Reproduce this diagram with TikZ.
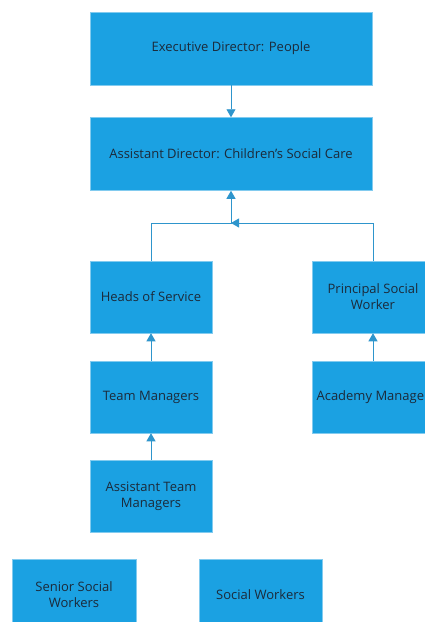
\documentclass[tikz,border=0pt]{standalone}
\usepackage{fontspec}
\setmainfont{Open Sans}
\usetikzlibrary{arrows.meta}
\definecolor{boxblue}{HTML}{1BA1E2}
\definecolor{linkblue}{HTML}{2E95CC}
\definecolor{textnavy}{HTML}{1C2A3A}
\tikzset{
  orgbox/.style={rectangle, fill=boxblue, draw=boxblue!55!white, line width=0.5pt,
    minimum width=122pt, minimum height=72pt, inner sep=2pt, align=center,
    text=textnavy, font=\fontsize{13pt}{16pt}\selectfont},
  widebox/.style={orgbox, minimum width=282pt, minimum height=73pt},
  link/.style={draw=linkblue, line width=0.8pt},
  linkarrow/.style={link, -{Triangle[width=9pt,length=8pt]}}
}
\begin{document}
\begin{tikzpicture}[x=1pt,y=-1pt]
\useasboundingbox (0,0) rectangle (425,622);
\clip (0,0) rectangle (425,622);
\node[widebox] (exec) at (231,48.5) {Executive Director: People};
\node[widebox] (asst) at (231,154) {Assistant Director: Children’s Social Care};
\node[orgbox] (heads) at (151,297) {Heads of Service};
\node[orgbox] (psw) at (373,297) {Principal Social\\Worker};
\node[orgbox] (tm) at (151,397) {Team Managers};
\node[orgbox] (am) at (373,397) {Academy Manager};
\node[orgbox] (atm) at (151,496) {Assistant Team\\Managers};
\node[orgbox, minimum width=124pt] (ssw) at (74,595) {Senior Social\\Workers};
\node[orgbox, minimum width=123pt] (sw) at (260.5,595) {Social Workers};
\coordinate (j) at (231,223);
\draw[linkarrow] (exec) -- (asst);
\draw[linkarrow] (heads.north) |- (j) -- (asst.south);
\draw[linkarrow] (psw.north) |- (j);
\draw[linkarrow] (tm) -- (heads);
\draw[linkarrow] (atm) -- (tm);
\draw[linkarrow] (am) -- (psw);
\end{tikzpicture}
\end{document}
